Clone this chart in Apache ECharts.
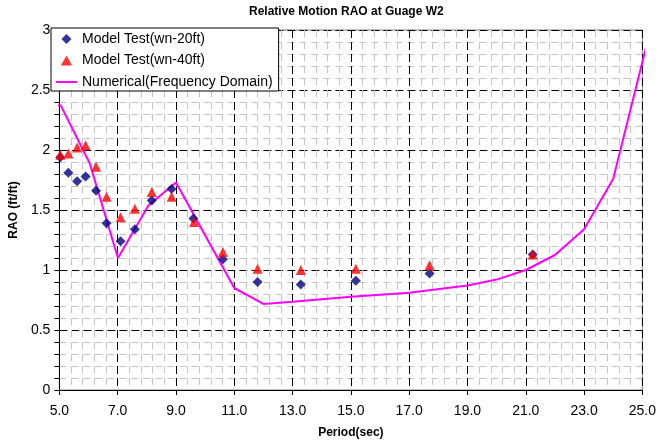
<!DOCTYPE html>
<html><head><meta charset="utf-8">
<script src="https://cdn.jsdelivr.net/npm/echarts@6/dist/echarts.min.js"></script>
<style>html,body{margin:0;padding:0;background:#fff}#c{width:659px;height:446px}</style>
</head><body><div id="c"></div>
<script>
// Model Test (wn-20ft)
const periods20 = [5.03, 5.31, 5.61, 5.90, 6.26, 6.62, 7.10, 7.59, 8.17, 8.85, 9.60, 10.61, 11.80, 13.28, 15.17, 17.70, 21.24];
const rao20     = [1.94, 1.81, 1.74, 1.78, 1.66, 1.39, 1.24, 1.34, 1.58, 1.675, 1.43, 1.09, 0.90, 0.88, 0.91, 0.97, 1.13];
// Model Test (wn-40ft)
const periods40 = [5.03, 5.31, 5.61, 5.90, 6.26, 6.62, 7.10, 7.59, 8.17, 8.85, 9.62, 10.61, 11.80, 13.28, 15.17, 17.70, 21.24];
const rao40     = [1.96, 1.97, 2.02, 2.04, 1.86, 1.61, 1.44, 1.51, 1.65, 1.61, 1.40, 1.15, 1.01, 1.00, 1.01, 1.04, 1.13];
// Numerical (Frequency Domain)
const numPeriods = [4.92, 5.05, 6.04, 7.01, 8.06, 9.00, 11.00, 12.00, 13.00, 15.00, 17.00, 19.00, 20.00, 21.00, 22.00, 23.00, 24.00, 25.15];
const numRao     = [2.37, 2.37, 1.89, 1.10, 1.54, 1.73, 0.85, 0.717, 0.736, 0.778, 0.81, 0.87, 0.92, 1.00, 1.125, 1.34, 1.76, 2.88];

const seriesNames = ['Model Test(wn-20ft)', 'Model Test(wn-40ft)', 'Numerical(Frequency Domain)'];
const titleText = 'Relative Motion RAO at Guage W2';
const xName = 'Period(sec)';
const yName = 'RAO (ft/ft)';

const zip = (a, b) => a.map((v, i) => [v, b[i]]);
const FONT = '"Liberation Sans", Arial, sans-serif';

const chart = echarts.init(document.getElementById('c'), null, {renderer: 'canvas'});
chart.setOption({
  animation: false,
  backgroundColor: '#fff',
  title: {
    text: titleText, left: 249, top: 6, padding: 0,
    textStyle: {fontFamily: FONT, fontSize: 12, fontWeight: 'bold', color: '#000'}
  },
  grid: {left: 52.5, right: 12, top: 30, bottom: 56, show: true, borderColor: '#808080', borderWidth: 1, backgroundColor: 'transparent'},
  legend: {
    data: [
      {name: seriesNames[0], icon: 'path://M5,0L10,5L5,10L0,5Z'},
      {name: seriesNames[1], icon: 'path://M5,0L10,9L0,9Z'},
      {name: seriesNames[2], icon: 'path://M0,0L22,0L22,2L0,2Z'}
    ],
    symbolKeepAspect: true,
    orient: 'vertical', left: 51, top: 28,
    padding: [3, 6, 1, 5], itemGap: 5.5, itemWidth: 21, itemHeight: 10,
    backgroundColor: '#fff', borderColor: '#000', borderWidth: 1, borderRadius: 0,
    textStyle: {fontFamily: FONT, fontSize: 14, color: '#000', lineHeight: 16}
  },
  xAxis: {
    type: 'value', min: 5, max: 25, interval: 2,
    name: xName, nameLocation: 'middle', nameGap: 37,
    nameTextStyle: {fontFamily: FONT, fontSize: 12, fontWeight: 'bold', color: '#000'},
    axisLine: {show: true, onZero: false, lineStyle: {color: '#000', width: 1}},
    axisTick: {show: true, length: 5, lineStyle: {color: '#000'}},
    minorTick: {show: false, splitNumber: 5},
    axisLabel: {margin: 14, fontFamily: FONT, fontSize: 14, color: '#000', formatter: v => v.toFixed(1)},
    splitLine: {show: true, lineStyle: {color: '#000', width: 1, type: [8, 4]}},
    minorSplitLine: {show: true, lineStyle: {color: '#c4c4c4', width: 1, type: [7, 5]}}
  },
  yAxis: {
    type: 'value', min: 0, max: 3, interval: 0.5,
    name: yName, nameLocation: 'middle', nameGap: 34,
    nameTextStyle: {fontFamily: FONT, fontSize: 12, fontWeight: 'bold', color: '#000'},
    axisLine: {show: true, onZero: false, lineStyle: {color: '#000', width: 1}},
    axisTick: {show: true, length: 5, lineStyle: {color: '#000'}},
    minorTick: {show: true, splitNumber: 5, length: 5, lineStyle: {color: '#000'}},
    axisLabel: {margin: 9, fontFamily: FONT, fontSize: 14, color: '#000'},
    splitLine: {show: true, lineStyle: {color: '#000', width: 1, type: [8, 4]}},
    minorSplitLine: {show: true, lineStyle: {color: '#c4c4c4', width: 1, type: [7, 5]}}
  },
  series: [
    {
      name: seriesNames[2], type: 'line', data: zip(numPeriods, numRao),
      symbol: 'none', clip: false, z: 2,
      lineStyle: {color: '#FF00FF', width: 2}, itemStyle: {color: '#FF00FF'}
    },
    {
      name: seriesNames[0], type: 'scatter', data: zip(periods20, rao20),
      symbol: 'diamond', symbolSize: 10, z: 3,
      itemStyle: {color: '#000080'}
    },
    {
      name: seriesNames[1], type: 'scatter', data: zip(periods40, rao40),
      symbol: 'triangle', symbolSize: 10, z: 4,
      itemStyle: {color: '#FF0000'}
    }
  ]
});
</script></body></html>
